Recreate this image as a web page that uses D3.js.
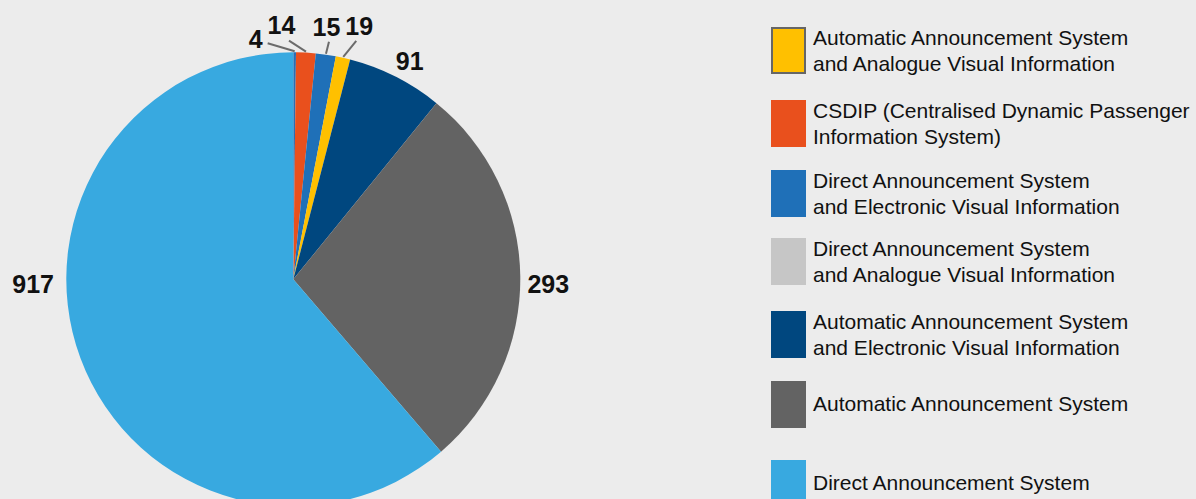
<!DOCTYPE html>
<html>
<head>
<meta charset="utf-8">
<script src="https://cdn.jsdelivr.net/npm/d3@7"></script>
<style>
  html, body { margin: 0; padding: 0; background: #ececec; }
  svg { display: block; }
  text { font-family: "Liberation Sans", Arial, sans-serif; }
</style>
</head>
<body>
<svg id="chart" width="1196" height="499"></svg>
<script>
// ---- data (pie order, clockwise from 12 o'clock) ----
const sliceLabels = ["4", "14", "15", "19", "91", "293", "917"];
// slice shares as drawn in the picture (percent of the circle)
const sliceShares = [0.19, 1.39, 1.42, 1.03, 6.83, 27.86, 61.28];
const sliceColors = ["#2a6fb3", "#e9501d", "#1f70b8", "#ffc000", "#00477f", "#636363", "#38a9e0"];

// ---- legend ----
const legendLabels = [
  ["Automatic Announcement System", "and Analogue Visual Information"],
  ["CSDIP (Centralised Dynamic Passenger", "Information System)"],
  ["Direct Announcement System", "and Electronic Visual Information"],
  ["Direct Announcement System", "and Analogue Visual Information"],
  ["Automatic Announcement System", "and Electronic Visual Information"],
  ["Automatic Announcement System"],
  ["Direct Announcement System"]
];
const legendColors = ["#ffc000", "#e9501d", "#1f70b8", "#c6c6c6", "#00477f", "#636363", "#38a9e0"];

// ---- layout ----
const cx = 293.3, cy = 279.3, R = 227;
const leader = [
  { line: [-27, -8], text: [-5, 5], anchor: "end" },
  { line: [-17, -11], text: [-7.5, -7], anchor: "middle" },
  { line: [3, -12], text: [-2.5, -6], anchor: "middle" },
  { line: [13, -16], text: [3, -6], anchor: "middle" },
  null, null, null
];
const bigLabel = [null, null, null, null, { r: 247, nudge: [5, 2] }, { r: 255, nudge: [0, 8] }, { r: 255, nudge: [-21, -84] }];
const legendTops = [27, 100, 170, 238, 311, 381, 460];
const legendX = 771, swW = 35, swH = 47, textX = 813, lineH = 25.5;

const svg = d3.select("#chart");
svg.append("rect").attr("width", 1196).attr("height", 499).attr("fill", "#ececec");

const pie = d3.pie().sort(null).value(d => d)(sliceShares);
const arc = d3.arc().innerRadius(0).outerRadius(R);

const g = svg.append("g").attr("transform", `translate(${cx},${cy})`);
g.selectAll("path.slice").data(pie).join("path")
  .attr("class", "slice")
  .attr("d", arc)
  .attr("fill", (d, i) => sliceColors[i]);

function polar(angle, r) {
  return [Math.sin(angle) * r, -Math.cos(angle) * r];
}

pie.forEach((d, i) => {
  const mid = (d.startAngle + d.endAngle) / 2;
  if (leader[i]) {
    const L = leader[i];
    const p0 = polar(mid, R + 1);
    const p1 = [p0[0] + L.line[0], p0[1] + L.line[1]];
    g.append("line")
      .attr("x1", p0[0]).attr("y1", p0[1])
      .attr("x2", p1[0]).attr("y2", p1[1])
      .attr("stroke", "#6b6b6b").attr("stroke-width", 2);
    g.append("text")
      .attr("x", p1[0] + L.text[0]).attr("y", p1[1] + L.text[1])
      .attr("text-anchor", L.anchor)
      .attr("font-size", 25).attr("font-weight", "bold").attr("fill", "#111")
      .text(sliceLabels[i]);
  } else {
    const B = bigLabel[i];
    const p = polar(mid, B.r);
    g.append("text")
      .attr("x", p[0] + B.nudge[0]).attr("y", p[1] + B.nudge[1])
      .attr("text-anchor", "middle").attr("dy", "0.35em")
      .attr("font-size", 25).attr("font-weight", "bold").attr("fill", "#111")
      .text(sliceLabels[i]);
  }
});

// legend
const lg = svg.append("g");
legendLabels.forEach((lines, i) => {
  const top = legendTops[i];
  const r = lg.append("rect")
    .attr("x", legendX).attr("y", top).attr("width", swW).attr("height", swH)
    .attr("fill", legendColors[i]);
  if (i === 0) {
    r.attr("x", legendX + 1).attr("y", top + 1).attr("width", swW - 2).attr("height", swH - 2)
     .attr("stroke", "#666").attr("stroke-width", 2);
  }
  const t = lg.append("text")
    .attr("font-size", 21).attr("fill", "#111");
  const n = lines.length;
  const firstBase = n === 1 ? top + swH / 2 + 6.5 : top + 18;
  lines.forEach((s, k) => {
    t.append("tspan").attr("x", textX).attr("y", firstBase + k * lineH).text(s);
  });
});
</script>
</body>
</html>
